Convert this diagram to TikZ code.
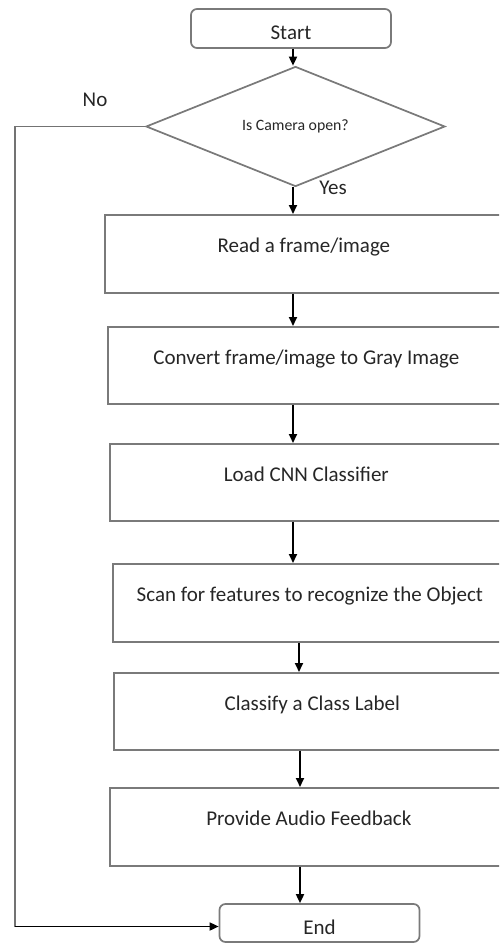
\documentclass[tikz,border=0pt]{standalone}
\usepackage{fontspec}
\setmainfont{Carlito}
\usetikzlibrary{shapes.geometric,arrows.meta}

\tikzset{
  frame/.style={draw=black!52, line width=1.7pt},
  term/.style={frame, rounded corners=6pt, minimum width=200pt,
    inner sep=0pt, font=\fontsize{21}{25}\selectfont, text=black!85,
    text height=22pt, text depth=0pt},
  stepbox/.style={frame, anchor=north west, inner sep=0pt, font=\fontsize{21}{25}\selectfont,
    text=black!85, text height=15pt, text depth=17pt},
  decision/.style={frame, diamond, minimum width=299pt, minimum height=83pt, inner sep=0pt,
    font=\fontsize{15.8}{19}\selectfont, text=black!85},
  arr/.style={draw=black, line width=1.7pt, -{Triangle[length=9pt,width=8pt]}},
  tag/.style={font=\fontsize{21}{25}\selectfont, text=black!85},
}

\begin{document}
\begin{tikzpicture}[x=1pt, y=-1pt]
  \useasboundingbox (0,0) rectangle (499,943);
  \clip (0,0) rectangle (499,943);

  % terminals and decision
  \node[term, minimum height=39pt] (start) at (291,28.5) {Start};
  \node[decision] (cam) at (295.5,126.5) {Is Camera open?};
  \node[term, minimum height=38pt] (end) at (319.5,923) {End};

  % processing steps
  \node[stepbox, minimum width=398pt, minimum height=78pt] (read) at (104,214) {Read a frame/image};
  \node[stepbox, minimum width=397pt, minimum height=77pt] (gray) at (107,326) {Convert frame/image to Gray Image};
  \node[stepbox, minimum width=393pt, minimum height=77pt] (cnn) at (109,443) {Load CNN Classifier};
  \node[stepbox, minimum width=394pt, minimum height=78pt] (scan) at (112,563) {Scan for features to recognize the Object};
  \node[stepbox, minimum width=397pt, minimum height=77pt] (cls) at (113,672) {Classify a Class Label};
  \node[stepbox, minimum width=398pt, minimum height=78pt] (audio) at (109,787) {Provide Audio Feedback};

  % columns of the connectors
  \coordinate (colA) at (293,0);
  \coordinate (colB) at (299,0);
  \coordinate (colC) at (300,0);
  \coordinate (railx) at (15,0);
  \coordinate (endin) at ([yshift=-3.5pt]end.west);

  % main flow
  \draw[arr] (start.south -| colA) -- (cam.north -| colA);
  \draw[arr] (cam.south -| colA) -- (read.north -| colA);
  \draw[arr] (read.south -| colA) -- (gray.north -| colA);
  \draw[arr] (gray.south -| colA) -- (cnn.north -| colA);
  \draw[arr] (cnn.south -| colA) -- (scan.north -| colA);
  \draw[arr] (scan.south -| colB) -- (cls.north -| colB);
  \draw[arr] (cls.south -| colC) -- (audio.north -| colC);
  \draw[arr] (audio.south -| colC) -- (end.north -| colC);

  % "No" branch round the left side
  \draw[draw=black!55, line width=1.4pt] (cam.west) -| (railx |- endin);
  \draw[arr] (railx |- endin) -- (endin);

  \node[tag] (no) at (95,100) {No};
  \node[tag] (yes) at (333,188) {Yes};
\end{tikzpicture}
\end{document}
